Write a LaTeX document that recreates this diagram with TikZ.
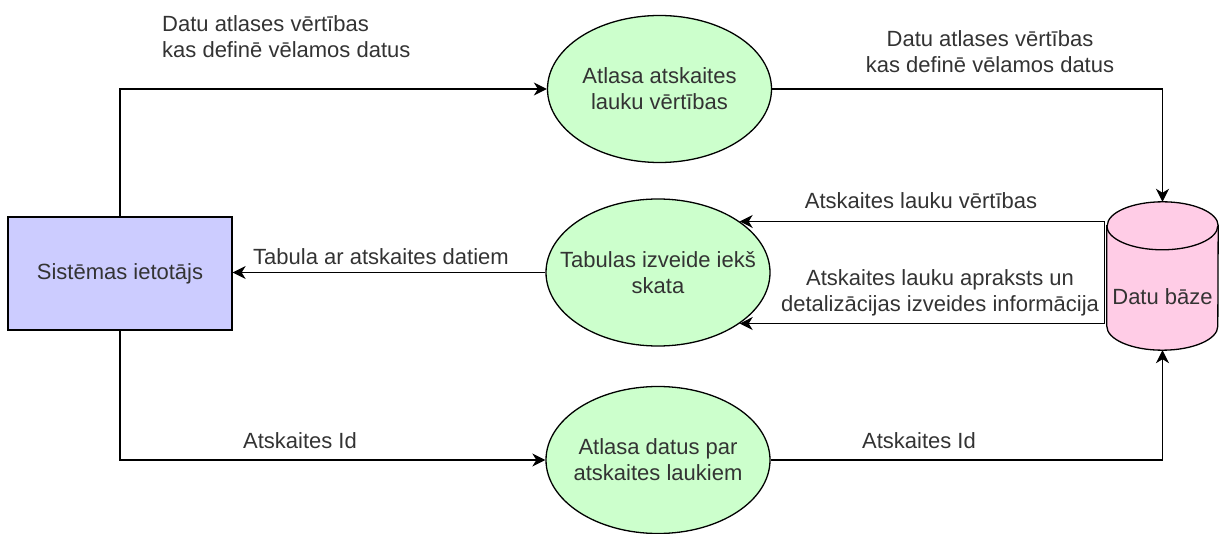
\documentclass[tikz,border=0pt]{standalone}
\usepackage{fontspec}
\setmainfont{Liberation Sans}
\usetikzlibrary{arrows.meta,shapes.geometric,calc}

\definecolor{userfill}{HTML}{CCCCFF}
\definecolor{procfill}{HTML}{CCFFCC}
\definecolor{storefill}{HTML}{FFCCE6}
\definecolor{txt}{HTML}{333333}

\tikzset{
  every node/.style={font=\fontsize{22}{26}\selectfont, text=txt},
  entity/.style={draw, line width=1.3pt, fill=userfill, minimum width=224pt,
    minimum height=113pt, inner sep=0pt},
  % fixed-size ellipse; its caption is set as a centred label
  process/.style 2 args={draw, line width=1.3pt, fill=procfill, ellipse,
    minimum width=224pt, minimum height=147pt, inner sep=0pt,
    label={[name=#1, align=center, inner sep=0pt]center:#2}},
  store/.style={minimum width=111pt, minimum height=148pt, inner sep=0pt},
  flow/.style={line width=1.3pt, -{Stealth[length=13pt,width=13pt,inset=4pt]}},
  plain/.style={line width=1.3pt},
  lbl/.style={inner sep=0pt, align=center}
}

\begin{document}
\begin{tikzpicture}[x=1pt, y=-1pt]
\useasboundingbox (0,0) rectangle (1224,534);

% external entity
\node[entity] (user) at (120,273.5) {Sistēmas ietotājs};

% processes
\node[process={seltext}{Atlasa atskaites\\lauku vērtības}] (sel) at (659.5,89) {};
\node[process={tabtext}{Tabulas izveide iekš\\skata}] (tab) at (658,272.5) {};
\node[process={qrytext}{Atlasa datus par\\atskaites laukiem}] (qry) at (658,460) {};

% data store (cylinder)
\node[store] (db) at (1162.5,276) {};
\path[draw, line width=1.3pt, fill=storefill]
  ($(db.north west)+(0,24)$) -- ($(db.south west)+(0,-24)$)
  arc[start angle=180, end angle=360, x radius=55.5pt, y radius=24pt]
  -- ($(db.north east)+(0,24)$)
  arc[start angle=0, end angle=180, x radius=55.5pt, y radius=24pt] -- cycle;
\draw[line width=1.3pt] ($(db.north west)+(0,24)$)
  arc[start angle=180, end angle=360, x radius=55.5pt, y radius=24pt];
\node[inner sep=0pt] (dbtext) at ($(db.center)+(0,21)$) {Datu bāze};

% flows
\draw[flow] (user.north) |- (sel.west);
\draw[flow] (sel.east) -| (db.north);
\draw[flow] (tab.west) -- (tab.west -| user.east);
\draw[flow] (user.south) |- (qry.west);
\draw[flow] (qry.east) -| (db.south);

\coordinate (dbedge) at ($(db.west)+(-2,0)$);
\draw[plain] (tab.32 -| dbedge) -- (tab.-32 -| dbedge);
\draw[flow] (tab.32 -| dbedge) -- (tab.32);
\draw[flow] (tab.-32 -| dbedge) -- (tab.-32);

% flow labels
\node[lbl, anchor=west, align=left] (l1) at (162,37)
  {Datu atlases vērtības\\kas definē vēlamos datus};
\node[lbl] (l2) at (990,52) {Datu atlases vērtības\\kas definē vēlamos datus};
\node[lbl] (l3) at (381,257) {Tabula ar atskaites datiem};
\node[lbl] (l4) at (921,201) {Atskaites lauku vērtības};
\node[lbl] (l5) at (940,293)
  {Atskaites lauku apraksts un\\detalizācijas izveides informācija};
\node[lbl] (l6) at (300,441) {Atskaites Id};
\node[lbl] (l7) at (919,441) {Atskaites Id};
\end{tikzpicture}
\end{document}
